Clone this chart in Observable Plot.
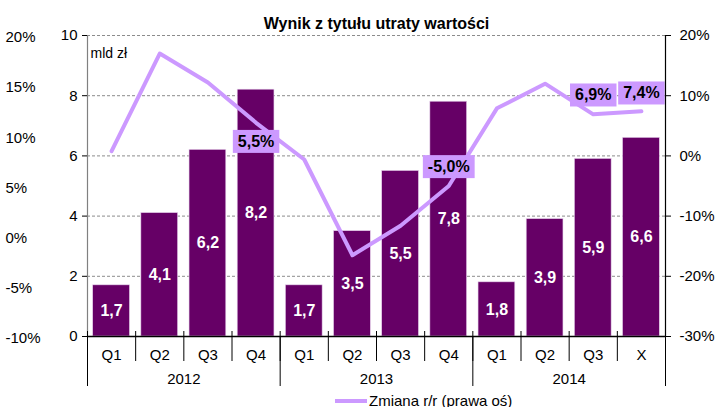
<!DOCTYPE html>
<html><head><meta charset="utf-8">
<script src="https://cdn.jsdelivr.net/npm/d3@7"></script>
<script src="https://cdn.jsdelivr.net/npm/@observablehq/plot@0.6"></script>
<style>
body{margin:0;background:#fff;font-family:"Liberation Sans",Arial,sans-serif}
#wrap{position:relative;width:718px;height:407px;overflow:hidden}
#legend{position:absolute;left:335px;top:392px;font-size:15px;display:flex;align-items:center;white-space:nowrap}
#legend span.swatch{display:inline-block;width:32px;height:4px;background:#cc99ff;margin-right:2px}
</style></head><body><div id="wrap"></div><script>
// ---- data ----
const years = ["2012", "2013", "2014"];
const quarters = ["Q1","Q2","Q3","Q4","Q1","Q2","Q3","Q4","Q1","Q2","Q3","X"];
const values = [1.7, 4.1, 6.2, 8.2, 1.7, 3.5, 5.5, 7.8, 1.8, 3.9, 5.9, 6.6];   // mld zł
const yoy = [0.8, 17.0, 12.2, 5.5, -0.6, -16.5, -11.6, -5.0, 7.9, 12.0, 6.9, 7.4]; // % r/r
const labeledPoints = [3, 7, 10, 11];
const leftTicks = [0, 2, 4, 6, 8, 10];
const rightTicksPct = [-30, -20, -10, 0, 10, 20];
const farLeftTicksPct = [-10, -5, 0, 5, 10, 15, 20];
const title = "Wynik z tytułu utraty wartości";
const unitLabel = "mld zł";
const legendLabel = "Zmiana r/r (prawa oś)";

// ---- helpers ----
const comma = v => v.toFixed(1).replace(".", ",");
const rightToY = p => (p + 30) / 5;      // right axis -30%..20% onto 0..10
const farLeftToY = p => (p + 10) / 3;    // far-left axis -10%..20% onto 0..10
const rows = values.map((v, i) => ({i, q: quarters[i], v, p: yoy[i]}));
const perYear = quarters.length / years.length;
const yearRows = years.map((y, k) => ({y, x: perYear * k + perYear / 2}));
const yearBounds = d3.range(years.length + 1).map(k => k * perYear);
const bounds = d3.range(quarters.length + 1);
const labelDy = {3: 19, 7: -19, 10: -19, 11: -18};

const font = "Liberation Sans, Arial, sans-serif";
const purple = "#660066", lilac = "#cc99ff";

const pctLabelMarks = labeledPoints.map(idx => Plot.text([rows[idx]], {
  x: d => d.i + 0.5, y: d => rightToY(d.p), text: d => comma(d.p) + "%",
  dy: labelDy[idx], fontWeight: "bold", fontSize: 16, fill: "#000", fontStyle: "normal"
}));

const chart = Plot.plot({
  width: 718, height: 407,
  marginLeft: 87, marginRight: 53, marginTop: 35, marginBottom: 71,
  style: {fontFamily: font, fontSize: "15px", color: "#000", background: "#fff", overflow: "visible"},
  x: {type: "linear", domain: [0, quarters.length], axis: null},
  y: {domain: [0, 10], axis: null},
  marks: [
    Plot.ruleY(leftTicks.filter(d => d > 0), {stroke: "#8c8c8c", strokeDasharray: "3,2"}),
    Plot.rectY(rows, {x1: "i", x2: d => d.i + 1, y: "v", fill: purple, stroke: "#e6d0ec", strokeWidth: 0.6, insetLeft: 5.7, insetRight: 5.7}),
    Plot.text(rows, {x: d => d.i + 0.5, y: d => d.v / 2, text: d => comma(d.v), fill: "#fff", fontWeight: "bold", fontSize: 16}),
    Plot.line(rows, {x: d => d.i + 0.5, y: d => rightToY(d.p), stroke: lilac, strokeWidth: 4}),
    ...pctLabelMarks,
    // axes lines
    Plot.ruleX([0], {stroke: "#808080", strokeWidth: 1.2}),
    Plot.ruleX([quarters.length], {stroke: "#000", strokeWidth: 1.2}),
    Plot.ruleY([0], {stroke: "#000", strokeWidth: 1.5}),
    // left axis (mld zł)
    Plot.axisY(leftTicks, {anchor: "left", label: null, tickSize: 5, tickPadding: 5, fontSize: 15, stroke: "#000", tickFormat: d => String(d)}),
    // right axis (%)
    Plot.axisY(rightTicksPct.map(rightToY), {anchor: "right", label: null, tickSize: 5, tickPadding: 9, fontSize: 15, stroke: "#000",
      tickFormat: d => Math.round(d * 5 - 30) + "%"}),
    // far-left percent labels
    Plot.text(farLeftTicksPct, {y: p => farLeftToY(p), text: p => p + "%", frameAnchor: "left", dx: -82, dy: 2, textAnchor: "start", fontSize: 15}),
    // category dividers
    Plot.ruleX(bounds, {x: d => d, y1: 0, y2: 0, insetTop: -5, insetBottom: -25, stroke: "#000"}),
    Plot.ruleX(yearBounds, {x: d => d, y1: 0, y2: 0, insetBottom: -50, stroke: "#000"}),
    Plot.text(rows, {x: d => d.i + 0.5, y: 0, text: "q", dy: 19, fontSize: 15}),
    Plot.text(yearRows, {x: "x", y: 0, text: "y", dy: 43, fontSize: 15}),
    // title and unit
    Plot.text([title], {frameAnchor: "top", dy: -18, fontWeight: "bold", fontSize: 16}),
    Plot.text([unitLabel], {frameAnchor: "top-left", dx: 3, dy: 13, textAnchor: "start", fontSize: 14})
  ]
});

const wrap = document.getElementById("wrap");
wrap.appendChild(chart);

// label boxes behind the percentage labels (bold texts ending with %)
Array.from(chart.querySelectorAll("text")).forEach(t => {
  const g = t.closest("g");
  const bold = g && g.getAttribute("font-weight") === "bold";
  if (!bold || !/%$/.test(t.textContent) || !g.hasAttribute("font-style")) return;
  const b = t.getBBox();
  const padX = 5, padY = 3;
  const r = document.createElementNS("http://www.w3.org/2000/svg", "rect");
  r.setAttribute("x", b.x - padX);
  r.setAttribute("y", b.y - padY);
  r.setAttribute("width", b.width + 2 * padX);
  r.setAttribute("height", b.height + 2 * padY);
  r.setAttribute("fill", lilac);
  if (t.getAttribute("transform")) r.setAttribute("transform", t.getAttribute("transform"));
  t.parentNode.insertBefore(r, t);
});

const legend = document.createElement("div");
legend.id = "legend";
legend.innerHTML = '<span class="swatch"></span><span></span>';
legend.lastChild.textContent = legendLabel;
wrap.appendChild(legend);
</script></body></html>
